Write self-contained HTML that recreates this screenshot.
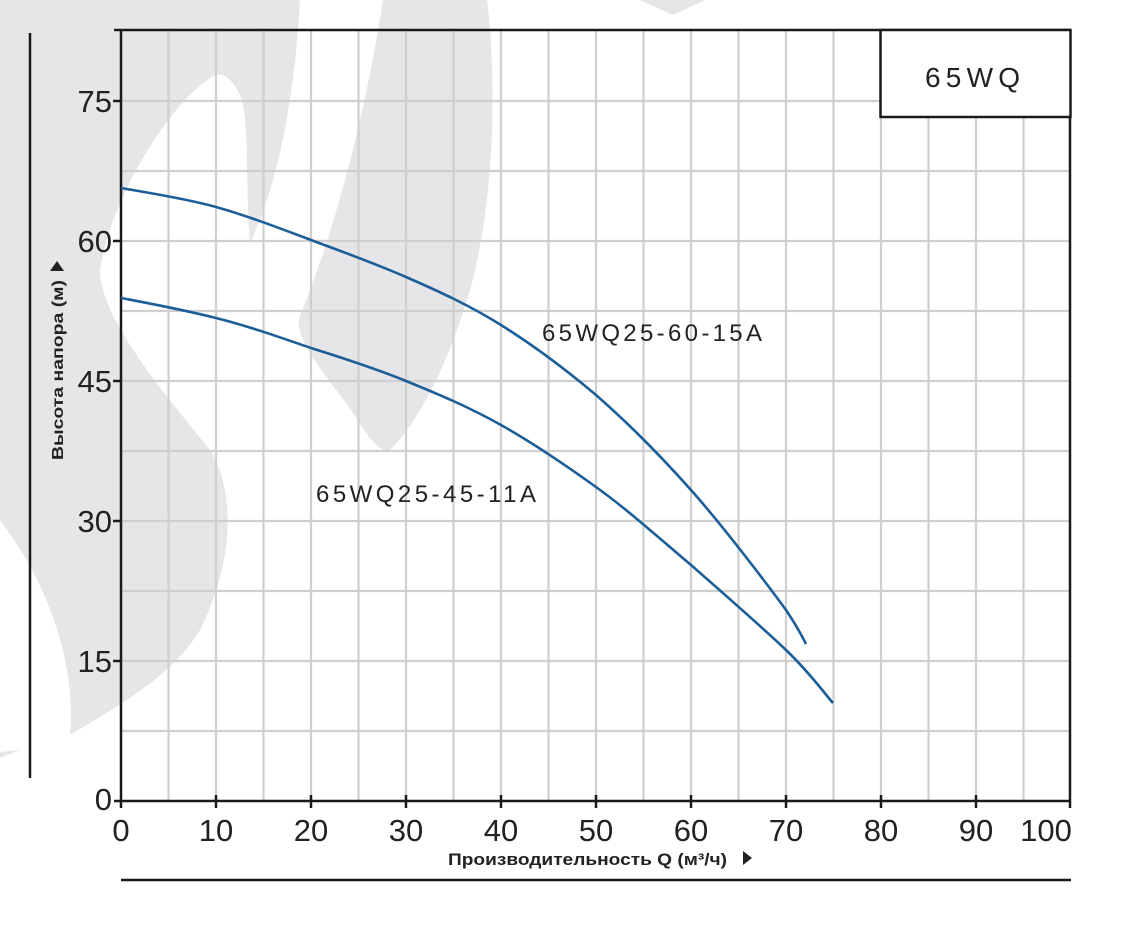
<!DOCTYPE html>
<html><head><meta charset="utf-8"><style>
html,body{margin:0;padding:0;background:#fff;}
svg{display:block;}
</style></head><body>
<svg width="1124" height="926" viewBox="0 0 1124 926" xmlns="http://www.w3.org/2000/svg">
<rect width="1124" height="926" fill="#fff"/>
<g fill="#e6e6e9">
<path d="M0,0 L300,0 C295,90 280,180 250,243 C245,180 250,120 240,95 C232,78 222,72 215,75 C170,100 110,200 100,270 C100,320 170,400 210,450 C235,490 235,560 200,630 C170,680 110,710 70,735 C75,680 60,600 0,520 Z"/>
<path d="M383,0 L487,0 C497,80 495,200 470,290 C450,360 420,420 390,450 C375,455 360,420 340,395 C305,350 295,330 300,315 C320,270 360,150 383,0 Z"/>
<path d="M640,0 L673,15 L705,0 Z"/>
<path d="M0,752 L20,750 L0,758 Z"/>
</g>
<g stroke="#cfcfcf" stroke-width="2.2">
<line x1="168.5" y1="30" x2="168.5" y2="801"/><line x1="216" y1="30" x2="216" y2="801"/>
<line x1="263.5" y1="30" x2="263.5" y2="801"/><line x1="311" y1="30" x2="311" y2="801"/>
<line x1="358.5" y1="30" x2="358.5" y2="801"/><line x1="406" y1="30" x2="406" y2="801"/>
<line x1="453.5" y1="30" x2="453.5" y2="801"/><line x1="501" y1="30" x2="501" y2="801"/>
<line x1="548.5" y1="30" x2="548.5" y2="801"/><line x1="596" y1="30" x2="596" y2="801"/>
<line x1="643.5" y1="30" x2="643.5" y2="801"/><line x1="691" y1="30" x2="691" y2="801"/>
<line x1="738.5" y1="30" x2="738.5" y2="801"/><line x1="786" y1="30" x2="786" y2="801"/>
<line x1="833.5" y1="30" x2="833.5" y2="801"/><line x1="881" y1="30" x2="881" y2="801"/>
<line x1="928.5" y1="30" x2="928.5" y2="801"/><line x1="976" y1="30" x2="976" y2="801"/>
<line x1="1023.5" y1="30" x2="1023.5" y2="801"/>
<line x1="121" y1="101" x2="1071" y2="101"/><line x1="121" y1="171" x2="1071" y2="171"/>
<line x1="121" y1="241" x2="1071" y2="241"/><line x1="121" y1="311" x2="1071" y2="311"/>
<line x1="121" y1="381" x2="1071" y2="381"/><line x1="121" y1="451" x2="1071" y2="451"/>
<line x1="121" y1="521" x2="1071" y2="521"/><line x1="121" y1="591" x2="1071" y2="591"/>
<line x1="121" y1="661" x2="1071" y2="661"/><line x1="121" y1="731" x2="1071" y2="731"/>
</g>
<g stroke="#1a1a1a" stroke-width="2.5" fill="none">
<line x1="114" y1="30" x2="1071" y2="30"/>
<line x1="121" y1="30" x2="121" y2="808"/>
<line x1="114" y1="801" x2="1071" y2="801"/>
<line x1="1070" y1="117" x2="1070" y2="808"/>
<line x1="113" y1="101" x2="121" y2="101"/><line x1="113" y1="241" x2="121" y2="241"/>
<line x1="113" y1="381" x2="121" y2="381"/><line x1="113" y1="521" x2="121" y2="521"/>
<line x1="113" y1="661" x2="121" y2="661"/>
<line x1="216" y1="795" x2="216" y2="808"/><line x1="311" y1="795" x2="311" y2="808"/>
<line x1="406" y1="795" x2="406" y2="808"/><line x1="501" y1="795" x2="501" y2="808"/>
<line x1="596" y1="795" x2="596" y2="808"/><line x1="691" y1="795" x2="691" y2="808"/>
<line x1="786" y1="795" x2="786" y2="808"/><line x1="881" y1="795" x2="881" y2="808"/>
<line x1="976" y1="795" x2="976" y2="808"/>
<line x1="30" y1="33" x2="30" y2="778"/>
<line x1="121" y1="880" x2="1071" y2="880"/>
</g>
<rect x="880.5" y="30" width="190" height="87" fill="#fff" stroke="#1a1a1a" stroke-width="2.5"/>
<text x="925" y="87" font-family="Liberation Sans, sans-serif" font-size="28" fill="#222" textLength="95" lengthAdjust="spacing">65WQ</text>
<g stroke="#1c5e98" stroke-width="2.6" fill="none">
<path d="M121,188 C137,191 184,198 216,207 C248,216 279,228 311,240 C343,252 374,263 406,277 C438,291 469,305 501,325 C533,345 564,368 596,395 C628,423 659,454 691,490 C723,526 767,584 786,610 C796,625 801,634 806,644"/>
<path d="M121,298 C137,301 184,310 216,318 C248,326 279,337 311,348 C343,358 374,368 406,381 C438,394 469,407 501,425 C533,443 564,464 596,487 C628,510 659,538 691,565 C723,593 762,627 786,650 C810,673 825,694 833,703"/>
</g>
<g font-family="Liberation Sans, sans-serif" font-size="24" fill="#222">
<text x="542" y="341" textLength="220" lengthAdjust="spacing">65WQ25-60-15A</text>
<text x="316" y="502" textLength="220" lengthAdjust="spacing">65WQ25-45-11A</text>
</g>
<g font-family="Liberation Sans, sans-serif" font-size="31" fill="#222" text-anchor="end">
<text x="112" y="112">75</text><text x="112" y="252">60</text><text x="112" y="392">45</text>
<text x="112" y="532">30</text><text x="112" y="672">15</text><text x="112" y="810">0</text>
</g>
<g font-family="Liberation Sans, sans-serif" font-size="31" fill="#222" text-anchor="middle">
<text x="121" y="841">0</text><text x="216" y="841">10</text><text x="311" y="841">20</text>
<text x="406" y="841">30</text><text x="501" y="841">40</text><text x="596" y="841">50</text>
<text x="691" y="841">60</text><text x="786" y="841">70</text><text x="881" y="841">80</text>
<text x="976" y="841">90</text><text x="1046" y="841">100</text>
</g>
<text x="448" y="865" font-family="Liberation Sans, sans-serif" font-size="17" font-weight="bold" fill="#222" textLength="279" lengthAdjust="spacingAndGlyphs">Производительность Q (м³/ч)</text>
<path d="M743,851 L752,858 L743,865 Z" fill="#222"/>
<text transform="translate(63,460) rotate(-90)" font-family="Liberation Sans, sans-serif" font-size="16" font-weight="bold" fill="#222" textLength="180" lengthAdjust="spacingAndGlyphs">Высота напора (м)</text>
<path d="M50,271 L57,261 L64,271 Z" fill="#222"/>
</svg>
</body></html>
